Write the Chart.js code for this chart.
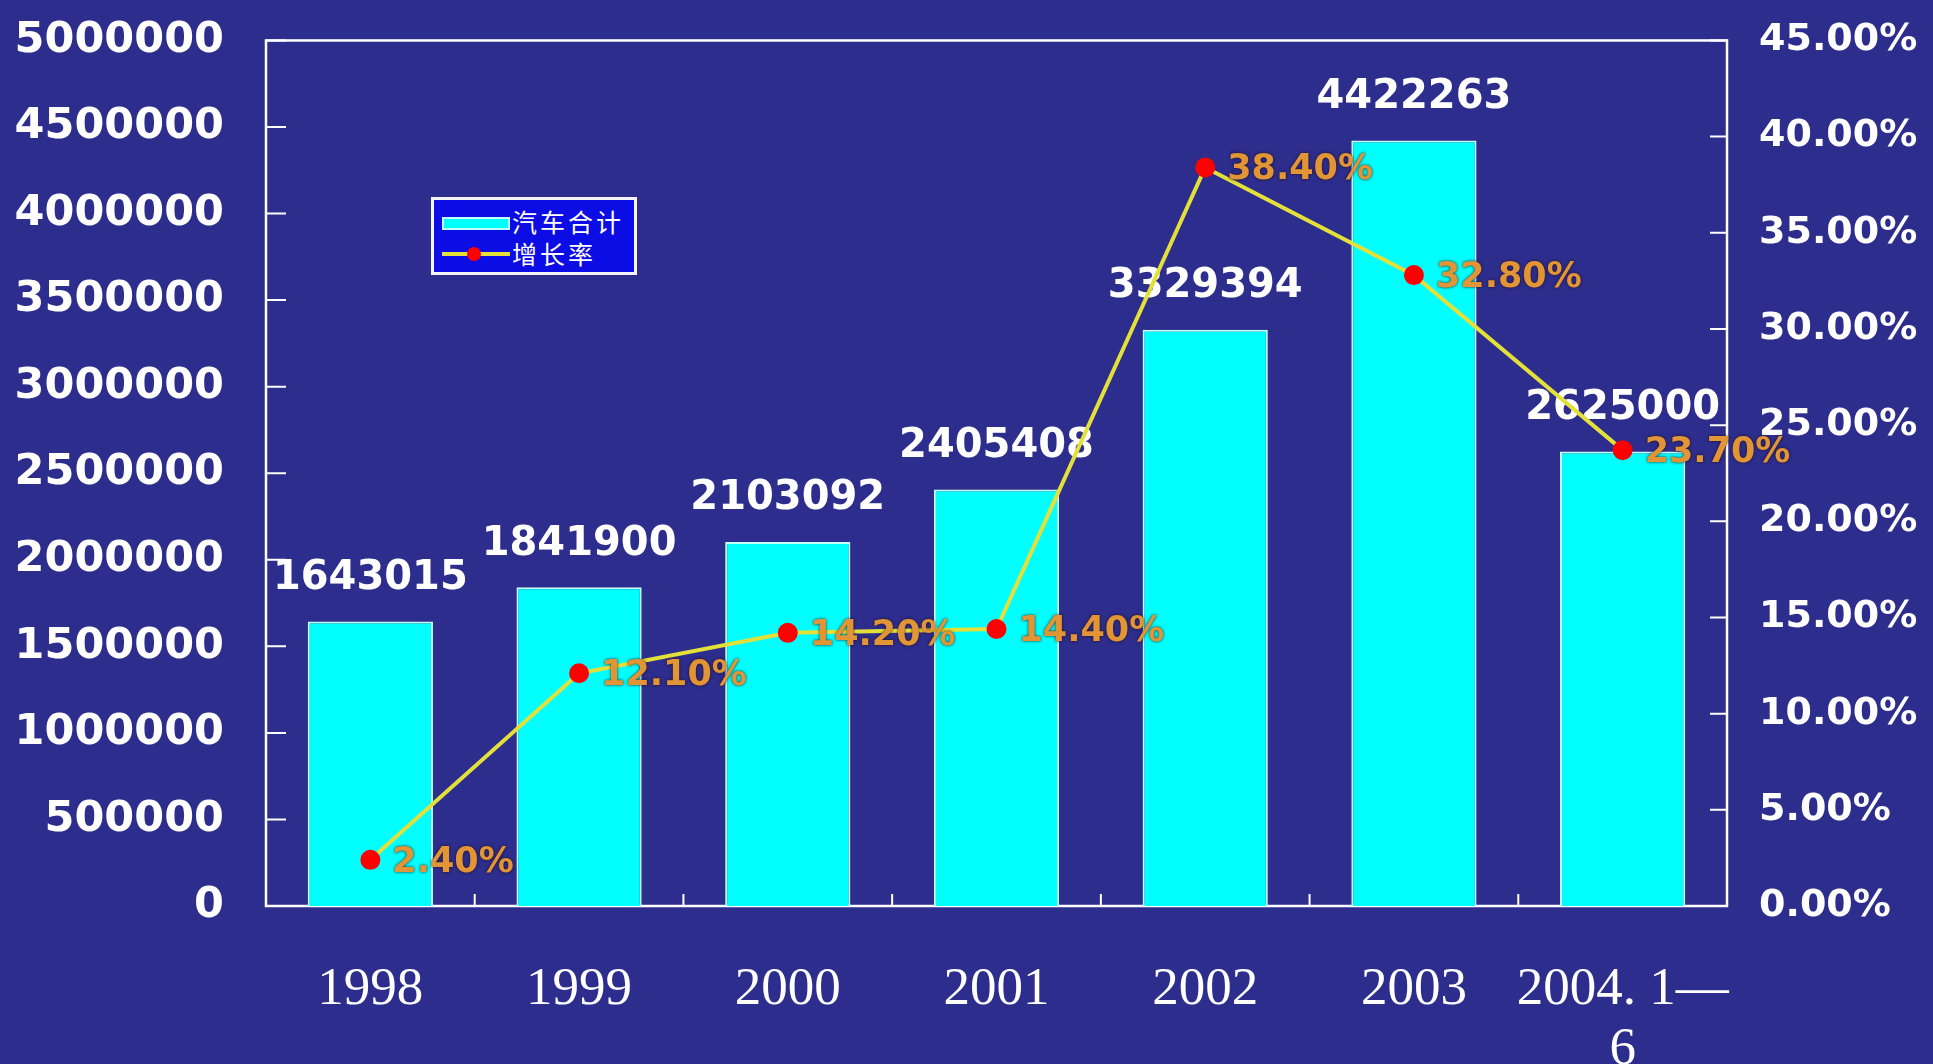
<!DOCTYPE html>
<html lang="zh-CN">
<head>
<meta charset="UTF-8">
<title>汽车合计与增长率</title>
<script src="https://cdn.jsdelivr.net/npm/chart.js"></script>
<style>
    body { margin: 0; background: #2c2d8c; overflow: hidden; }
    #wrap { position: relative; width: 1933px; height: 1064px; }
    .legend {
        position: absolute; left: 431px; top: 197px;
        width: 200px; height: 72px;
        background: #0c0ce4; border: 3px solid #f4f4ff;
        font-family: "Noto Sans CJK SC", sans-serif; font-size: 25px;
        color: #ffffff; letter-spacing: 3px;
    }
    .legend .row { position: absolute; left: 0; height: 34px; line-height: 34px; }
    .legend .row span.txt { position: absolute; left: 78px; white-space: nowrap; }
    .swatch-bar {
        position: absolute; left: 8px; top: 13px; width: 64px; height: 9px;
        background: #00ffff; border: 2px solid #bff;
    }
    .swatch-line {
        position: absolute; left: 8px; top: 16px; width: 68px; height: 4px;
        background: #e3e03a;
    }
    .swatch-dot {
        position: absolute; left: 33px; top: 11px; width: 14px; height: 14px;
        border-radius: 50%; background: #ff0000;
    }
</style>
</head>
<body>
<div id="wrap">
    <canvas id="autoChart" width="1933" height="1064"></canvas>
    <div class="legend">
        <div class="row" style="top:4px"><div class="swatch-bar"></div><span class="txt">汽车合计</span></div>
        <div class="row" style="top:36px"><div class="swatch-line"></div><div class="swatch-dot"></div><span class="txt">增长率</span></div>
    </div>
</div>

<script>
    // 年份（最后一项为2004年1-6月）
    const years = ['1998', '1999', '2000', '2001', '2002', '2003', ['2004. 1—', '6']];
    // 汽车合计（辆）
    const vehicleTotals = [1643015, 1841900, 2103092, 2405408, 3329394, 4422263, 2625000];
    // 增长率（%）
    const growthRates = [2.40, 12.10, 14.20, 14.40, 38.40, 32.80, 23.70];

    const leftMax = 5000000, leftStep = 500000;
    const rightMax = 45, rightStep = 5;

    const white = '#ffffff';
    const numFont = '"DejaVu Sans", sans-serif';

    // 白色边框 + 向内的刻度线
    const framePlugin = {
        id: 'frame',
        beforeDatasetsDraw(chart) {
            const { ctx, chartArea: a, scales } = chart;
            ctx.save();
            ctx.strokeStyle = white;
            ctx.lineWidth = 2.5;
            ctx.strokeRect(a.left, a.top, a.right - a.left, a.bottom - a.top);

            ctx.lineWidth = 2;
            ctx.beginPath();
            scales.y.ticks.forEach((t, i) => {
                const py = scales.y.getPixelForTick(i);
                ctx.moveTo(a.left, py); ctx.lineTo(a.left + 20, py);
            });
            scales.y1.ticks.forEach((t, i) => {
                const py = scales.y1.getPixelForTick(i);
                ctx.moveTo(a.right, py); ctx.lineTo(a.right - 17, py);
            });
            const x = scales.x;
            const half = (x.getPixelForValue(1) - x.getPixelForValue(0)) / 2;
            for (let i = 1; i < years.length; i++) {
                const px = x.getPixelForValue(i) - half;
                ctx.moveTo(px, a.bottom); ctx.lineTo(px, a.bottom - 12);
            }
            ctx.stroke();
            ctx.restore();
        },
        afterDatasetDraw(chart, args) {
            // 柱顶数值，画在折线之下
            if (args.index !== 0) return;
            const { ctx } = chart;
            ctx.save();
            ctx.font = 'bold 40px ' + numFont;
            ctx.fillStyle = white;
            ctx.textAlign = 'center';
            ctx.textBaseline = 'middle';
            args.meta.data.forEach((bar, i) => {
                ctx.fillText(String(vehicleTotals[i]), bar.x, bar.y - 43);
            });
            ctx.restore();
        },
        afterDatasetsDraw(chart) {
            // 增长率标签
            const { ctx } = chart;
            const meta = chart.getDatasetMeta(1);
            ctx.save();
            ctx.font = 'bold 35px ' + numFont;
            ctx.textAlign = 'left';
            ctx.textBaseline = 'middle';
            ctx.shadowColor = 'rgba(40,10,0,0.9)';
            ctx.shadowBlur = 3;
            ctx.fillStyle = '#e29536';
            meta.data.forEach((pt, i) => {
                ctx.fillText(growthRates[i].toFixed(2) + '%', pt.x + 22, pt.y + 3);
            });
            ctx.restore();
        }
    };

    const ctx = document.getElementById('autoChart').getContext('2d');
    new Chart(ctx, {
        data: {
            labels: years,
            datasets: [
                {
                    type: 'bar',
                    label: '汽车合计',
                    data: vehicleTotals,
                    yAxisID: 'y',
                    backgroundColor: '#00ffff',
                    borderColor: '#c4ffff',
                    borderWidth: 2,
                    barPercentage: 0.6,
                    categoryPercentage: 1.0,
                    order: 2
                },
                {
                    type: 'line',
                    label: '增长率',
                    data: growthRates,
                    yAxisID: 'y1',
                    borderColor: '#e3e03a',
                    borderWidth: 4,
                    pointRadius: 8,
                    pointBackgroundColor: '#ff0000',
                    pointBorderColor: '#ff0000',
                    tension: 0,
                    order: 1
                }
            ]
        },
        options: {
            responsive: false,
            animation: false,
            layout: { padding: { top: 28, left: 0, right: 0, bottom: 0 } },
            plugins: {
                legend: { display: false },
                tooltip: { enabled: false }
            },
            scales: {
                x: {
                    grid: { display: false },
                    border: { display: false },
                    ticks: {
                        color: white,
                        padding: 46,
                        font: { family: '"Liberation Serif", serif', size: 53, lineHeight: 1.13 },
                        maxRotation: 0,
                        autoSkip: false
                    },
                    afterFit(scale) { scale.height = 1064 - 906; }
                },
                y: {
                    position: 'left',
                    min: 0, max: leftMax,
                    grid: { display: false },
                    border: { display: false },
                    ticks: {
                        stepSize: leftStep,
                        color: white,
                        padding: 34,
                        font: { family: numFont, size: 43, weight: 'bold', lineHeight: 0.3 },
                        callback: v => String(v)
                    },
                    afterFit(scale) { scale.width = 266; }
                },
                y1: {
                    position: 'right',
                    min: 0, max: rightMax,
                    grid: { display: false },
                    border: { display: false },
                    ticks: {
                        stepSize: rightStep,
                        color: white,
                        padding: 24,
                        font: { family: numFont, size: 38, weight: 'bold', lineHeight: 0.3 },
                        callback: v => v.toFixed(2) + '%'
                    },
                    afterFit(scale) { scale.width = 1933 - 1727; }
                }
            }
        },
        plugins: [framePlugin]
    });
</script>
</body>
</html>
